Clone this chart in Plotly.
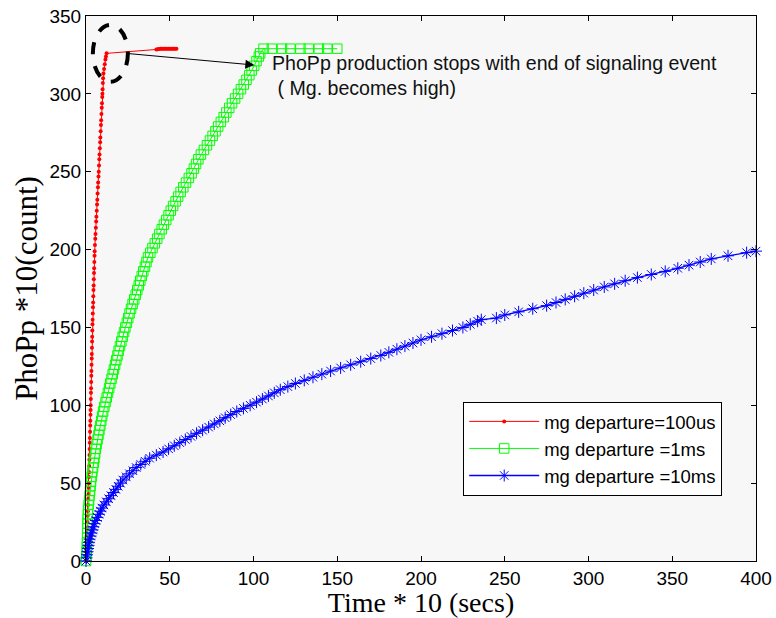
import plotly.graph_objects as go

# ---- data ----
red_x = [0, 0.1, 0.24, 0.34, 0.48, 0.61, 0.71, 0.85, 0.99, 1.09, 1.22, 1.36, 1.46, 1.6, 1.7,
         1.79, 1.85, 1.94, 2.03, 2.1, 2.18, 2.27, 2.33, 2.43, 2.51, 2.58, 2.67, 2.73, 2.8,
         2.88, 2.96, 3.02, 3.1, 3.18, 3.24, 3.32, 3.4, 3.46, 3.54, 3.62, 3.68, 3.76,
         3.86, 3.94, 4.05, 4.16, 4.25, 4.36, 4.47, 4.56, 4.67, 4.78, 4.86, 4.98, 5.09, 5.17,
         5.34, 5.54, 5.68, 5.87, 6.06, 6.21, 6.4, 6.59, 6.74, 6.93, 7.12, 7.26, 7.46, 7.6,
         7.78, 7.95, 8.08, 8.26, 8.44, 8.57, 8.74, 8.92, 9.05, 9.23, 9.4, 9.54, 9.71, 9.8,
         9.9, 10.05, 10.2, 10.4, 10.8, 11.2, 11.6, 11.9, 12.3,
         42.0, 42.8, 43.6, 44.4, 45.2, 46.0, 46.8, 47.6, 48.4, 49.2, 50.0, 50.8, 51.6, 52.4, 53.2, 54.0]
red_y = [0, 3, 7, 10, 14, 18, 21, 25, 29, 32, 36, 40, 43, 47, 50,
         54, 57, 61, 65, 68, 72, 76, 79, 83, 87, 90, 94, 97, 100,
         104, 108, 111, 115, 119, 122, 126, 130, 133, 137, 141, 144, 148,
         152, 155, 159, 163, 166, 170, 174, 177, 181, 185, 188, 192, 196, 199,
         203, 207, 210, 214, 218, 221, 225, 229, 232, 236, 240, 243, 247, 250,
         254, 258, 261, 265, 269, 272, 276, 280, 283, 287, 291, 294, 298, 300,
         303, 307, 310, 313, 316, 319, 322, 324, 326,
         328.5, 328.6, 328.8, 329, 329, 329, 329, 329, 329, 329, 329, 329, 329, 329, 329, 329]

green_x = [0, 0.2, 0.35, 0.5, 0.58, 0.66, 0.75, 0.83, 0.91, 1.0, 1.07,
           1.29, 1.58, 1.86, 2.15, 2.43, 2.72, 3.0,
           3.38, 3.79, 4.2, 4.62, 5.03, 5.45, 5.86,
           6.36, 6.91, 7.45, 8.0, 8.55, 9.09, 9.64,
           10.24, 10.95, 11.67, 12.38, 13.1, 13.8, 14.5,
           15.24, 15.95, 16.67, 17.38, 18.1, 18.8, 19.5,
           20.27, 21.1, 21.9, 22.7, 23.5, 24.4, 25.2,
           26.0, 26.9, 27.8, 28.8, 29.7, 30.6, 31.5, 32.4,
           33.3, 34.2, 35.2, 36.1, 37.0, 38.4, 39.7, 41.1,
           42.5, 43.8, 45.2, 46.5, 47.9, 49.3, 50.6, 52.0,
           53.5, 55.0, 56.5, 58.1, 59.7, 61.4, 63.0, 64.4, 65.7, 67.1,
           68.6, 70.4, 72.2, 74.0, 75.6, 77.3, 78.9,
           80.5, 82.2, 83.8, 85.5, 87.2, 89.0, 90.8,
           92.5, 94.2, 95.8, 97.5, 98.9, 100.4, 101.8, 103.2, 104.0, 106.0,
           111, 117, 122, 128, 133, 139, 144, 150]
green_y = [0, 3, 6, 9, 12, 15, 18, 21, 24, 27, 30,
           33, 36, 39, 42, 45, 48, 51,
           54, 57, 60, 63, 66, 69, 72,
           75, 78, 81, 84, 87, 90, 93,
           96, 99, 102, 105, 108, 111, 114,
           117, 120, 123, 126, 129, 132, 135,
           138, 141, 144, 147, 150, 153, 156,
           159, 162, 165, 168, 171, 174, 177, 180,
           183, 186, 189, 192, 195, 198, 201, 204,
           207, 210, 213, 216, 219, 222, 225, 228,
           231, 234, 237, 240, 243, 246, 249, 252, 255, 258,
           261, 264, 267, 270, 273, 276, 279,
           282, 285, 288, 291, 294, 297, 300,
           303, 306, 309, 312, 315, 318, 321, 324, 326, 329,
           329, 329, 329, 329, 329, 329, 329, 329]

blue_x = [0, 0.3, 0.6, 0.9, 1.2, 1.5, 1.8, 2.1, 2.7, 3.3, 3.9, 4.4, 5.0,
          5.9, 6.8, 7.7, 8.6, 9.5, 10.7, 12.1, 13.5, 14.9, 16.4, 17.8, 19.2, 20.6, 22.0,
          24.0, 26.0, 28.0, 30.0, 32.7, 35.3, 38.0, 42.0, 46.0, 49.3, 52.7, 56.0,
          59.3, 62.7, 66.0, 69.6, 73.2, 76.6, 79.9, 83.1, 86.4, 90.0, 94.0, 98.0,
          101.8, 105.3, 108.9, 112.4, 116.0, 120.5, 125.0, 130.3, 135.5, 140.8, 146.0,
          152.0, 158.0, 164.0, 170.0, 176.0, 180.8, 185.6, 190.4, 195.2, 200.0,
          206.3, 212.5, 218.8, 225.0, 229.4, 233.8, 236.0, 245.0, 250.0,
          258.3, 266.7, 275.0, 280.6, 286.1, 291.7, 297.2, 303.1, 309.4, 315.6, 321.9,
          329.2, 337.5, 345.8, 353.3, 360.0, 366.7, 373.3, 383.3, 394.4, 400.0]
blue_y = [0, 2, 4, 6, 8, 10, 12, 14, 16, 18, 20, 22, 24,
          26, 28, 30, 32, 34, 36, 38, 40, 42, 44, 46, 48, 50, 52,
          54, 56, 58, 60, 62, 64, 66, 68, 70, 72, 74, 76,
          78, 80, 82, 84, 86, 88, 90, 92, 94, 96, 98, 100,
          102, 104, 106, 108, 110, 112, 114, 116, 118, 120, 122,
          124, 126, 128, 130, 132, 134, 136, 138, 140, 142,
          144, 146, 148, 150, 152, 154, 155, 156, 158,
          160, 162, 164, 166, 168, 170, 172, 174, 176, 178, 180,
          182, 184, 186, 188, 190, 192, 194, 196, 198, 199]

series_names = ["mg departure=100us", "mg departure =1ms", "mg departure =10ms"]
x_ticks = [0, 50, 100, 150, 200, 250, 300, 350, 400]
y_ticks = [0, 50, 100, 150, 200, 250, 300, 350]

annot_text = "PhoPp production stops with end of signaling event<br>\u00a0( Mg. becomes high)"
# arrow from near the red knee to the green knee (data units)
arrow_from = (24, 326)
arrow_to = (100.5, 318.5)
ellipse_box = (4.1, 307.8, 25.0, 344.3)

SANS = "Arial, 'Liberation Sans', Helvetica, sans-serif"
SERIF = "'Times New Roman', 'Liberation Serif', serif"

fig = go.Figure()
fig.add_trace(go.Scatter(x=red_x, y=red_y, name=series_names[0], mode="lines+markers",
                         line=dict(color="#FF0000", width=1),
                         marker=dict(symbol="circle", size=4, color="#FF0000"),
                         cliponaxis=False))
fig.add_trace(go.Scatter(x=green_x, y=green_y, name=series_names[1], mode="lines+markers",
                         line=dict(color="#00FF00", width=1),
                         marker=dict(symbol="square-open", size=9.5, color="#00FF00",
                                     line=dict(width=1, color="#00FF00")),
                         cliponaxis=False))
fig.add_trace(go.Scatter(x=blue_x, y=blue_y, name=series_names[2], mode="lines+markers",
                         line=dict(color="#0000FF", width=1.3),
                         marker=dict(symbol="asterisk-open", size=10, color="#0000FF",
                                     line=dict(width=1, color="#0000FF")),
                         cliponaxis=False))

fig.add_shape(type="circle", xref="x", yref="y",
              x0=ellipse_box[0], y0=ellipse_box[1], x1=ellipse_box[2], y1=ellipse_box[3],
              line=dict(color="black", width=4, dash="dash"))

fig.add_annotation(x=arrow_to[0], y=arrow_to[1], ax=arrow_from[0], ay=arrow_from[1],
                   xref="x", yref="y", axref="x", ayref="y", text="",
                   showarrow=True, arrowhead=2, arrowsize=1.8, arrowwidth=1, arrowcolor="black")
fig.add_annotation(x=0.274, y=0.938, xref="paper", yref="paper", xanchor="left", yanchor="top",
                   text=annot_text, showarrow=False, align="left",
                   font=dict(family=SANS, size=19.6, color="#111111"))

axis_common = dict(showline=True, linecolor="black", linewidth=1, mirror="ticks",
                   ticks="inside", ticklen=5, tickcolor="black", showgrid=False, zeroline=False,
                   automargin=False,
                   tickfont=dict(family=SANS, size=19, color="black"))
fig.update_xaxes(range=[0, 400], tickvals=x_ticks,
                 title=dict(text="Time * 10 (secs)", font=dict(family=SERIF, size=28, color="black"),
                            standoff=2), **axis_common)
fig.update_yaxes(range=[0, 350], tickvals=y_ticks,
                 title=dict(text="PhoPp *10(count)", font=dict(family=SERIF, size=31, color="black"),
                            standoff=2), **axis_common)

fig.update_layout(width=776, height=618, margin=dict(l=86, r=20, t=16, b=57, pad=0),
                  paper_bgcolor="white", plot_bgcolor="#F7F7F7",
                  legend=dict(x=0.563, y=0.292, xanchor="left", yanchor="top",
                              bgcolor="white", bordercolor="black", borderwidth=1,
                              font=dict(family=SANS, size=18.5, color="black"),
                              itemwidth=70, tracegroupgap=0),
                  showlegend=True)

fig.write_html("out.html", config={"displayModeBar": False},
               post_script="document.body.style.margin='0';")
